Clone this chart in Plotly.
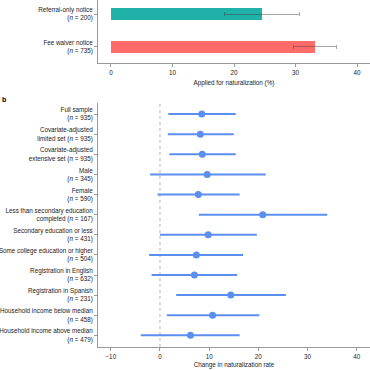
import plotly.graph_objects as go

# Panel a data
notice_labels = ["Referral-only notice<br>(<i>n</i> = 200)", "Fee waiver notice<br>(<i>n</i> = 735)"]
applied_pct = [24.6, 33.2]
applied_low = [18.5, 29.7]
applied_high = [30.6, 36.6]
bar_colors = ["#20B2A8", "#FF6B6B"]

# Panel b data
group_labels = [
    "Full sample<br>(<i>n</i> = 935)",
    "Covariate-adjusted<br>limited set (<i>n</i> = 935)",
    "Covariate-adjusted<br>extensive set (<i>n</i> = 935)",
    "Male<br>(<i>n</i> = 345)",
    "Female<br>(<i>n</i> = 590)",
    "Less than secondary education<br>completed (<i>n</i> = 167)",
    "Secondary education or less<br>(<i>n</i> = 431)",
    "Some college education or higher<br>(<i>n</i> = 504)",
    "Registration in English<br>(<i>n</i> = 632)",
    "Registration in Spanish<br>(<i>n</i> = 231)",
    "Household income below median<br>(<i>n</i> = 458)",
    "Household income above median<br>(<i>n</i> = 479)",
]
effect = [8.5, 8.2, 8.6, 9.6, 7.8, 20.9, 9.8, 7.4, 7.0, 14.4, 10.7, 6.2]
effect_low = [1.7, 1.6, 1.9, -2.0, -0.5, 7.9, 0.0, -2.2, -1.7, 3.3, 1.4, -3.9]
effect_high = [15.4, 15.0, 15.4, 21.5, 16.2, 34.0, 19.7, 16.9, 15.7, 25.6, 20.2, 16.2]

x_ticks_a = [0, 10, 20, 30, 40]
x_ticks_b = [-10, 0, 10, 20, 30, 40]

FONT = "Liberation Sans, Arial, sans-serif"
FS = 6.3
axis_col = "#9a9a9a"
txt_col = "#222222"

fig = go.Figure()

idx_a = list(range(len(applied_pct)))
fig.add_trace(go.Bar(
    x=applied_pct, y=idx_a, orientation="h",
    marker=dict(color=bar_colors, line=dict(width=0)),
    width=0.37,
    error_x=dict(type="data", symmetric=False,
                 array=[h - v for h, v in zip(applied_high, applied_pct)],
                 arrayminus=[v - l for v, l in zip(applied_pct, applied_low)],
                 color="rgba(60,60,60,0.45)", thickness=1, width=2),
    xaxis="x", yaxis="y", showlegend=False,
))

idx_b = list(range(len(effect)))
fig.add_trace(go.Scatter(
    x=effect, y=idx_b, mode="markers",
    marker=dict(color="#5B8FEF", size=7),
    error_x=dict(type="data", symmetric=False,
                 array=[h - v for h, v in zip(effect_high, effect)],
                 arrayminus=[v - l for v, l in zip(effect, effect_low)],
                 color="#5B8FEF", thickness=2, width=0),
    xaxis="x2", yaxis="y2", showlegend=False,
))

common_axis = dict(showline=True, linecolor=axis_col, linewidth=1, ticks="outside",
                   ticklen=3, tickcolor=axis_col, showgrid=False, zeroline=False,
                   tickfont=dict(family=FONT, size=FS, color=txt_col))

fig.update_layout(
    width=370, height=370,
    margin=dict(l=98, r=0, t=0, b=23),
    paper_bgcolor="white", plot_bgcolor="white",
    font=dict(family=FONT, size=FS, color=txt_col),
    bargap=0,
    xaxis=dict(**common_axis, anchor="y", range=[-2.1, 42.1], tickvals=x_ticks_a,
               title=dict(text="Applied for naturalization (%)", standoff=5,
                          font=dict(family=FONT, size=FS, color=txt_col))),
    yaxis=dict(**common_axis, domain=[0.818, 1.0], anchor="x", range=[1.508, -0.431],
               tickvals=idx_a, ticktext=notice_labels),
    xaxis2=dict(**common_axis, anchor="y2", range=[-12.6, 42.7], tickvals=x_ticks_b,
                automargin=False,
                title=dict(text="Change in naturalization rate", standoff=4,
                           font=dict(family=FONT, size=FS, color=txt_col))),
    yaxis2=dict(**common_axis, domain=[0.0, 0.703], anchor="x2", range=[11.58, -0.55],
                tickvals=idx_b, ticktext=group_labels),
)

fig.add_shape(type="line", xref="x2", yref="paper", x0=0, x1=0, y0=0, y1=0.703,
              line=dict(color="#cfcfcf", width=1.5, dash="dot"), layer="below")

fig.add_annotation(text="<b>b</b>", xref="paper", yref="paper", x=-0.36, y=0.714,
                   xanchor="left", yanchor="middle", showarrow=False,
                   font=dict(family=FONT, size=7, color="#000"))

fig.write_html("out.html", config={"displayModeBar": False},
               post_script="document.body.style.margin='0';")
